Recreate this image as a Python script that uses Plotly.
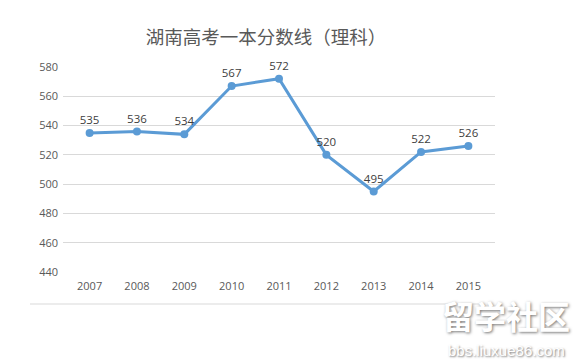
import plotly.graph_objects as go

years = ["2007", "2008", "2009", "2010", "2011", "2012", "2013", "2014", "2015"]
scores = [535, 536, 534, 567, 572, 520, 495, 522, 526]
title_text = "湖南高考一本分数线（理科）"

fig = go.Figure()
fig.add_trace(go.Scatter(
    x=years, y=scores, mode="lines+markers+text",
    text=[str(v) for v in scores], textposition="top center",
    textfont=dict(family="Open Sans, Noto Sans, sans-serif", size=11.5, color="#404040"),
    line=dict(color="#5B9BD5", width=3),
    marker=dict(color="#5B9BD5", size=8),
    cliponaxis=False, hoverinfo="skip", showlegend=False,
))

fig.update_layout(
    width=585, height=362,
    margin=dict(l=63, r=90, t=67, b=90),
    paper_bgcolor="white", plot_bgcolor="white",
    title=dict(text=title_text, x=266/585, xanchor="center", y=1-38/362, yanchor="middle",
               font=dict(family="Noto Sans CJK SC, sans-serif", size=18.5, color="#595959")),
    xaxis=dict(type="category", showgrid=False, showline=False, zeroline=False, ticks="",
               tickfont=dict(family="Open Sans, Noto Sans, sans-serif", size=11, color="#595959"),
               ticklabelstandoff=6),
    yaxis=dict(range=[440, 580], dtick=20, showgrid=True, gridcolor="#d9d9d9", gridwidth=1,
               zeroline=False, showline=False, ticks="",
               tickfont=dict(family="Open Sans, Noto Sans, sans-serif", size=11, color="#595959"),
               ticklabelstandoff=4),
    shapes=[dict(type="line", xref="paper", yref="paper",
                 x0=-33/432, x1=417/432, y0=-32/205, y1=-32/205,
                 line=dict(color="#d9d9d9", width=1))],
    annotations=[
        dict(text="<b>留学社区</b>", xref="paper", yref="paper", x=(506-63)/432, y=-(315-272)/205,
             xanchor="center", yanchor="middle", showarrow=False,
             font=dict(family="Noto Sans CJK SC, sans-serif", size=32, color="white",
                       shadow="1px 1px 3px #777")),
        dict(text="bbs.liuxue86.com", xref="paper", yref="paper", x=(506-63)/432, y=-(350-272)/205,
             xanchor="center", yanchor="middle", showarrow=False,
             font=dict(family="Liberation Sans, sans-serif", size=15, color="white",
                       shadow="1px 1px 2px #777")),
    ],
)

fig.write_html("out.html", config={"displayModeBar": False},
               post_script="document.body.style.margin='0';document.body.style.padding='0';")
